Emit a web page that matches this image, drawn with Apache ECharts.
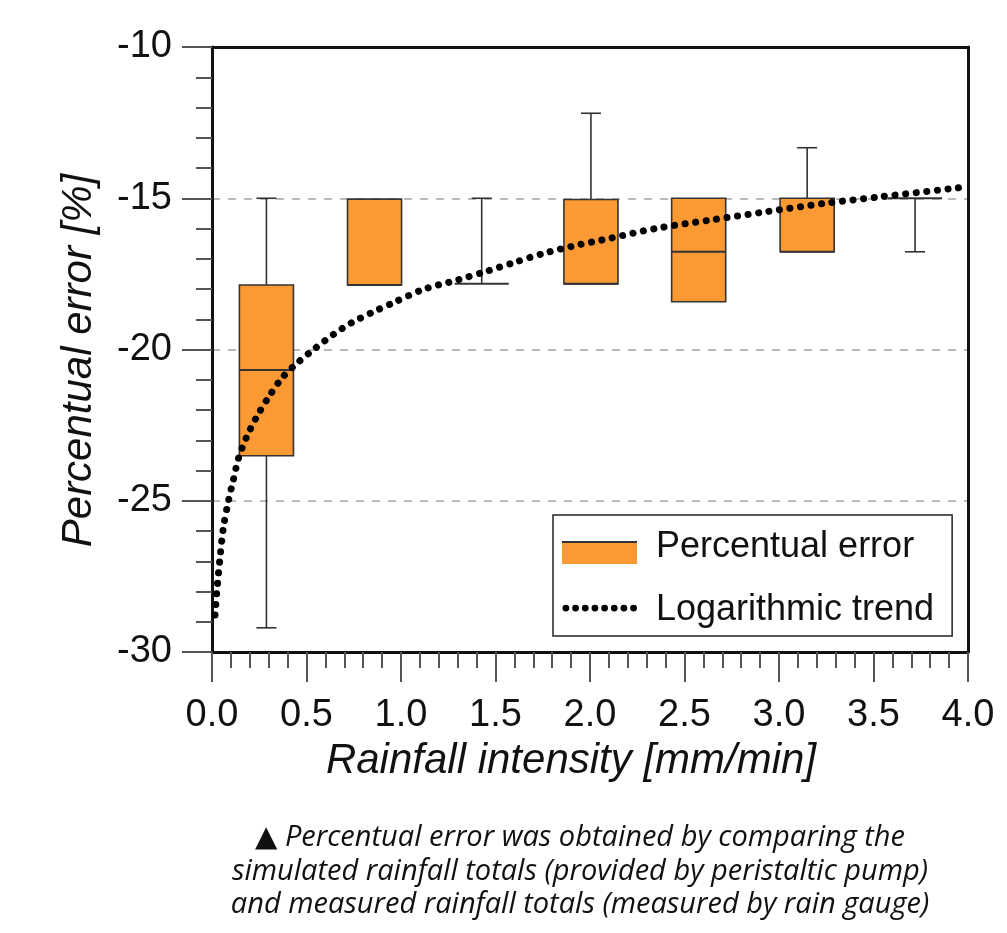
<!DOCTYPE html>
<html>
<head>
<meta charset="utf-8">
<script src="https://cdn.jsdelivr.net/npm/echarts@6/dist/echarts.min.js"></script>
<style>
html,body{margin:0;padding:0;background:#fff;}
#chart{width:1007px;height:933px;}
</style>
</head>
<body>
<div id="chart"></div>
<script>
// ---- data ----
const boxX      = [0.288, 0.86, 1.427, 2.005, 2.575, 3.149, 3.72];
const boxMin    = [-29.2, -17.87, -17.83, -17.83, -18.42, -16.77, -16.77];
const boxQ1     = [-23.51, -17.87, -17.83, -17.83, -18.42, -16.77, -15.0];
const boxMedian = [-20.68, -17.87, -17.83, -17.83, -16.77, -16.77, -15.0];
const boxQ3     = [-17.87, -15.03, -17.83, -15.04, -15.0, -15.0, -15.0];
const boxMax    = [-15.0, -15.03, -15.0, -12.19, -15.0, -13.33, -15.0];

const trendX = [0.016, 0.025, 0.042, 0.06, 0.087, 0.113, 0.14, 0.184, 0.237, 0.298, 0.369, 0.449,
                0.546, 0.643, 0.74, 0.846, 0.961, 1.12, 1.3, 1.45, 1.6, 1.755, 1.932, 2.109,
                2.347, 2.638, 2.939, 3.239, 3.539, 3.954];
const trendY = [-28.78, -28.04, -26.9, -25.9, -25.0, -24.31, -23.6, -22.88, -22.22, -21.59, -20.95, -20.46,
                -19.96, -19.5, -19.11, -18.78, -18.45, -18.01, -17.7, -17.42, -17.12, -16.82, -16.55, -16.32,
                -16.0, -15.72, -15.44, -15.17, -14.95, -14.65];

const captionLines = [
  '\u25B2 Percentual error was obtained by comparing the',
  'simulated rainfall totals (provided by peristaltic pump)',
  'and measured rainfall totals (measured by rain gauge)'
];

const BOX_NAME = 'Percentual error';
const TREND_NAME = 'Logarithmic trend';
const ORANGE = '#FB9A35';
const BOX_W = 0.286;   // box width in x-axis units
const CAP_W = 0.106;   // whisker cap width in x-axis units

const boxData = boxX.map((x, i) => [x, boxMin[i], boxQ1[i], boxMedian[i], boxQ3[i], boxMax[i]]);
const trendData = trendX.map((x, i) => [x, trendY[i]]);

function renderBox(params, api) {
  const x = api.value(0), mn = api.value(1), q1 = api.value(2), md = api.value(3), q3 = api.value(4), mx = api.value(5);
  const c = v => api.coord([x, v]);
  const bw = api.size([BOX_W, 0])[0];
  const cw = api.size([CAP_W, 0])[0];
  const cx = c(md)[0];
  const yMin = c(mn)[1], yQ1 = c(q1)[1], yMd = c(md)[1], yQ3 = c(q3)[1], yMax = c(mx)[1];
  const ls = {stroke: '#333', lineWidth: 1.6};
  const ch = [];
  if (mx > q3) {
    ch.push({type: 'line', shape: {x1: cx, y1: yMax, x2: cx, y2: yQ3}, style: ls});
    ch.push({type: 'line', shape: {x1: cx - cw / 2, y1: yMax, x2: cx + cw / 2, y2: yMax}, style: ls});
  }
  if (mn < q1) {
    ch.push({type: 'line', shape: {x1: cx, y1: yQ1, x2: cx, y2: yMin}, style: ls});
    ch.push({type: 'line', shape: {x1: cx - cw / 2, y1: yMin, x2: cx + cw / 2, y2: yMin}, style: ls});
  }
  if (q3 > q1) {
    ch.push({type: 'rect', shape: {x: cx - bw / 2, y: yQ3, width: bw, height: yQ1 - yQ3},
             style: {fill: ORANGE, stroke: '#333', lineWidth: 1.6}});
  }
  ch.push({type: 'line', shape: {x1: cx - bw / 2, y1: yMd, x2: cx + bw / 2, y2: yMd},
           style: {stroke: '#333', lineWidth: 2}});
  return {type: 'group', children: ch};
}

// legend icons (75 x 34 frame, tiny corner marks fix the frame)
const dotPath = (() => {
  let p = 'M0,0h0.01v0.01h-0.01Z M74.99,33.99h0.01v0.01h-0.01Z';
  for (let k = 0; k < 8; k++) {
    const x0 = 0.5 + k * 9.9;
    p += ' M' + x0 + ',15a3.5,3.5 0 1,0 7,0a3.5,3.5 0 1,0 -7,0Z';
  }
  return 'path://' + p;
})();
const boxIconPath = 'path://M0,0h0.01v0.01h-0.01Z M0,12H75V34H0Z';

const FONT = 'Liberation Sans';
const hiddenAxis = {
  axisLine: {show: true, onZero: false, lineStyle: {color: '#111', width: 3}},
  axisTick: {show: false}, axisLabel: {show: false}, splitLine: {show: false}, minorTick: {show: false}
};
const chart = echarts.init(document.getElementById('chart'), null, {renderer: 'canvas'});
chart.setOption({
  animation: false,
  backgroundColor: '#fff',
  grid: {left: 212, right: 39, top: 47, bottom: 281},
  xAxis: [{
    type: 'value', min: 0, max: 4, interval: 0.5,
    name: 'Rainfall intensity [mm/min]', nameLocation: 'middle', nameGap: 88,
    nameTextStyle: {fontFamily: FONT, fontSize: 42, fontStyle: 'italic', color: '#111', padding: [0, 38, 0, 0]},
    axisLine: {show: true, onZero: false, lineStyle: {color: '#111', width: 3}},
    axisTick: {show: true, inside: false, length: 30, lineStyle: {color: '#555', width: 2}},
    minorTick: {show: true, splitNumber: 5, length: 16, lineStyle: {color: '#555', width: 2}},
    axisLabel: {fontFamily: FONT, fontSize: 38, color: '#111', margin: 45, formatter: v => v.toFixed(1)},
    splitLine: {show: false}
  }, Object.assign({type: 'value', min: 0, max: 4, interval: 0.5, position: 'top'}, hiddenAxis)],
  yAxis: [{
    type: 'value', min: -30, max: -10, interval: 5,
    name: 'Percentual error [%]', nameLocation: 'middle', nameGap: 112,
    nameTextStyle: {fontFamily: FONT, fontSize: 42, fontStyle: 'italic', color: '#111', padding: [0, 22, 0, 0]},
    axisLine: {show: true, onZero: false, lineStyle: {color: '#111', width: 3}},
    axisTick: {show: true, inside: false, length: 30, lineStyle: {color: '#555', width: 2}},
    minorTick: {show: true, splitNumber: 5, length: 16, lineStyle: {color: '#555', width: 2}},
    axisLabel: {fontFamily: FONT, fontSize: 38, color: '#111', margin: 40},
    splitLine: {show: true, lineStyle: {color: '#bbb', width: 2, type: [8, 8]}}
  }, Object.assign({type: 'value', min: -30, max: -10, interval: 5, position: 'right'}, hiddenAxis)],
  legend: {
    orient: 'vertical', left: 553, top: 515,
    backgroundColor: '#fff', borderColor: '#222', borderWidth: 1.5, borderRadius: 0,
    padding: [12, 18, 6, 9],
    itemWidth: 75, itemHeight: 34, itemGap: 23,
    textStyle: {fontFamily: FONT, fontSize: 36, color: '#111', lineHeight: 40, padding: [0, 0, 0, 14]},
    data: [{name: BOX_NAME, icon: boxIconPath}, {name: TREND_NAME, icon: dotPath}]
  },
  series: [
    {
      name: BOX_NAME, type: 'custom', renderItem: renderBox, data: boxData,
      encode: {x: 0, y: [1, 2, 3, 4, 5]}, itemStyle: {color: ORANGE}, z: 2
    },
    {
      name: TREND_NAME, type: 'line', data: trendData, smooth: 0.3, symbol: 'none', z: 5,
      itemStyle: {color: '#000'},
      lineStyle: {color: '#000', width: 7, type: [0.1, 10.5], cap: 'round'}
    }
  ],
  graphic: [
    {type: 'line', z: 100, shape: {x1: 562, y1: 542, x2: 637, y2: 542}, style: {stroke: '#333', lineWidth: 2}}
  ].concat(captionLines.map((t, i) => ({
    type: 'text', x: 580, y: 838 + i * 33.5,
    style: {text: t, fill: '#111', font: 'italic 29px "Open Sans", "DejaVu Sans", sans-serif', textAlign: 'center', textVerticalAlign: 'middle'}
  })))
});
</script>
</body>
</html>
